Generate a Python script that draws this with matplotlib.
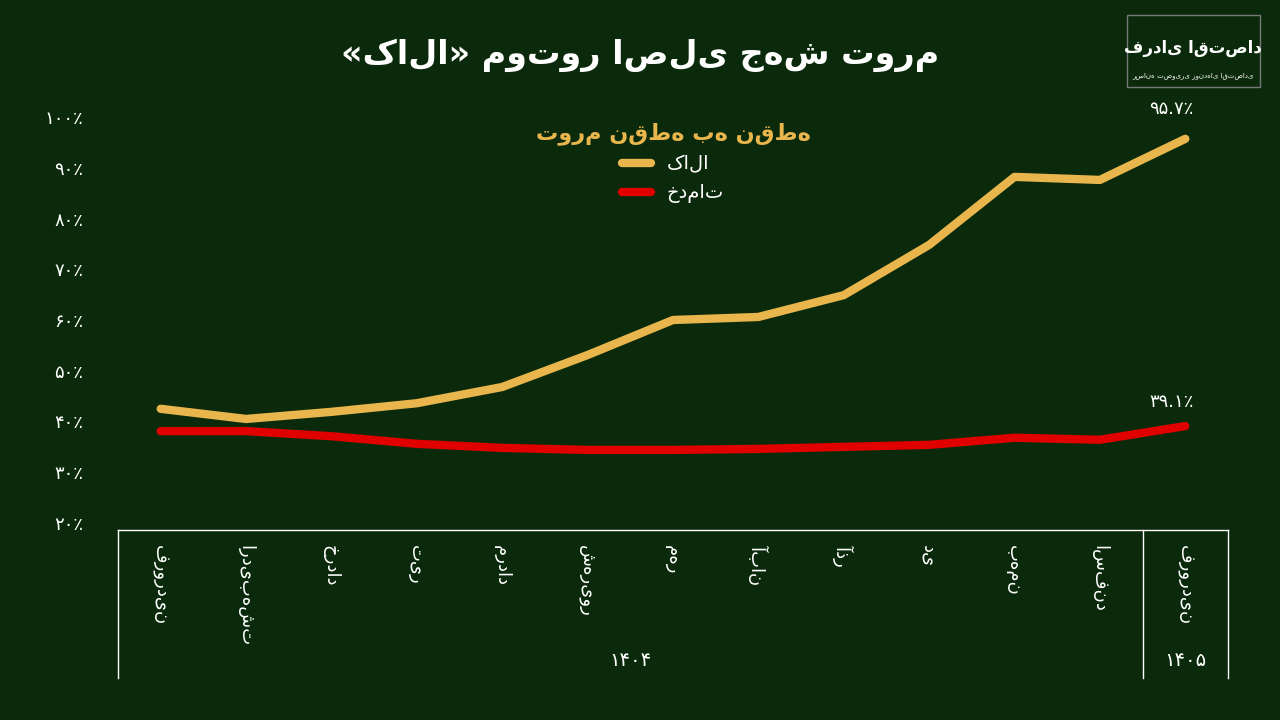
import matplotlib
matplotlib.use("Agg")
import matplotlib.pyplot as plt

months = ["فروردین","اردیبهشت","خرداد","تیر","مرداد","شهریور","مهر","آبان","آذر","دی","بهمن","اسفند","فروردین"]
goods = [42.5,40.5,41.9,43.6,46.8,53.1,60.0,60.6,64.9,74.8,88.2,87.6,95.7]
services = [38.1,38.1,37.1,35.6,34.8,34.4,34.4,34.6,35.0,35.4,36.8,36.4,39.1]
yticks = [20,30,40,50,60,70,80,90,100]
fa_digits = str.maketrans("0123456789.", "۰۱۲۳۴۵۶۷۸۹.")

def fa(s):
    return str(s).translate(fa_digits)

BG = "#0b2a0b"
GOLD = "#e8b64c"
RED = "#e00000"
plt.rcParams['font.family'] = ['DejaVu Sans']
fig = plt.figure(figsize=(12.8, 7.2), dpi=100, facecolor=BG)
ax = fig.add_axes([118/1280, 1-523/720, 1110/1280, 406/720])
ax.set_facecolor(BG)
x = list(range(len(months)))
ax.plot(x, goods, color=GOLD, lw=6, solid_capstyle='round', label="کالا")
ax.plot(x, services, color=RED, lw=6, solid_capstyle='round', label="خدمات")
ax.set_xlim(-0.5, 12.5)
ax.set_ylim(20, 100)
ax.set_yticks(yticks)
ax.set_yticklabels([fa(v) + "٪" for v in yticks], color="white", fontsize=13)
ax.tick_params(axis='y', length=0, pad=25)
ax.set_xticks([])
for s in ax.spines.values():
    s.set_visible(False)

ax.annotate(fa(goods[-1]) + "٪", (12, goods[-1]), xytext=(-10, 18), textcoords='offset points',
            ha='center', color='white', fontsize=13)
ax.annotate(fa(services[-1]) + "٪", (12, services[-1]), xytext=(-10, 14), textcoords='offset points',
            ha='center', color='white', fontsize=13)

leg = ax.legend(loc='upper center', bbox_to_anchor=(0.5, 1.03), frameon=False, fontsize=14,
                title="تورم نقطه به نقطه", handlelength=1.5, markerfirst=True)
leg.get_title().set_color(GOLD)
leg.get_title().set_fontsize(16)
leg.get_title().set_fontweight('bold')
for t in leg.get_texts():
    t.set_color('white')

fig.text(0.5, 1-55/720, "«کالا» موتور اصلی جهش تورم", ha='center', va='center',
         color='white', fontsize=24, fontweight='bold')

def fx(px): return px/1280
def fy(py): return 1-py/720
for px in [118, 1143, 1228]:
    fig.add_artist(plt.Line2D([fx(px), fx(px)], [fy(530), fy(678)], color='white', lw=1))
fig.add_artist(plt.Line2D([fx(118), fx(1228)], [fy(530), fy(530)], color='white', lw=1))
for i, m in enumerate(months):
    px = 160 + i*85.4
    fig.text(fx(px), fy(545), m, rotation=270, ha='center', va='top', color='white', fontsize=13)
fig.text(fx(630), fy(660), fa(1404), ha='center', va='center', color='white', fontsize=14)
fig.text(fx(1185), fy(660), fa(1405), ha='center', va='center', color='white', fontsize=14)

fig.add_artist(plt.Rectangle((fx(1127), fy(87)), fx(133), 72/720, fill=False, ec='#777777', lw=1))
fig.text(fx(1193), fy(48), "فردای اقتصاد", ha='center', va='center', color='white', fontsize=12, fontweight='bold')
fig.text(fx(1193), fy(76), "رسانه تصویری روندهای اقتصادی", ha='center', va='center', color='white', fontsize=5)

fig.savefig("out.png", dpi=100, facecolor=BG)
